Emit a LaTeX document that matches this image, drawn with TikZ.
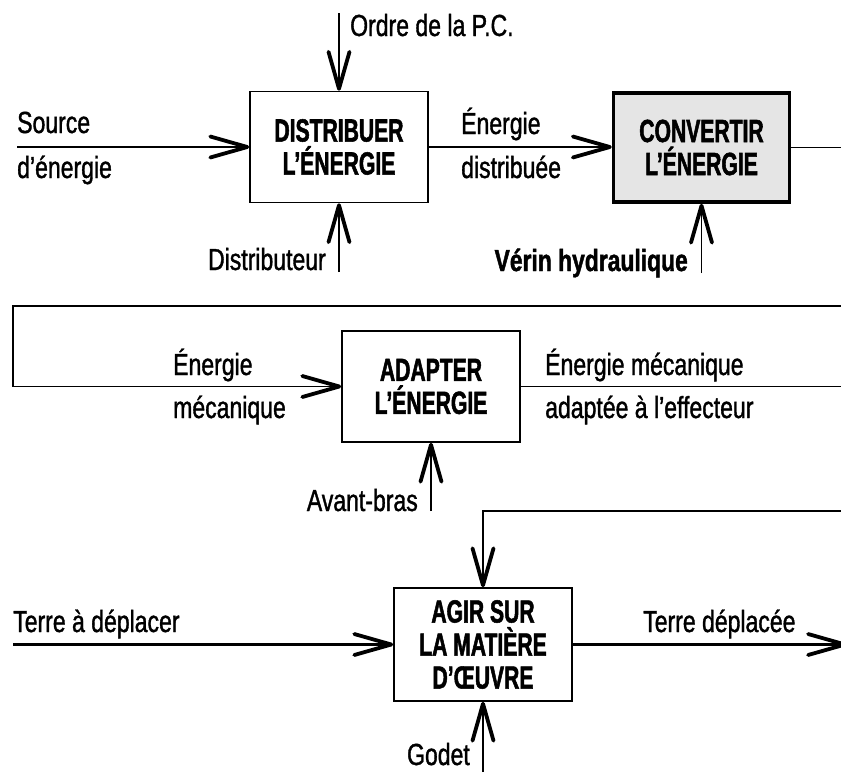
\documentclass[tikz,border=0pt]{standalone}
\usepackage{fontspec}
\setmainfont{Liberation Sans}[FakeStretch=0.755, FakeBold=1.2]
\newfontfamily\boxff{Liberation Sans}[FakeStretch=0.66, FakeBold=1.6]
\newfontfamily\bolff{Liberation Sans}[FakeStretch=0.75, FakeBold=1.4]
\usetikzlibrary{arrows.meta}
\begin{document}
\begin{tikzpicture}[x=1pt,y=-1pt,
  lab/.style={inner sep=0pt, font=\fontsize{30.5}{32}\selectfont},
  blk/.style={draw, line width=1.6pt, minimum width=178pt, minimum height=111pt,
    inner sep=0pt, align=center, font=\boxff\bfseries\fontsize{32}{33}\selectfont},
  blkthick/.style={blk, line width=3.5pt, minimum width=176pt, minimum height=109pt, fill=black!10},
  wire/.style={line width=1.2pt},
  heavy/.style={line width=3.5pt},
  barb/.style={-{Straight Barb[length=37pt,width=21pt,line width=3.8pt,round]}},
]
\useasboundingbox (0,0) rectangle (841,772);

% blocks
\node[blk] (dist) at (339,147) {DISTRIBUER\\L’ÉNERGIE};
\node[blkthick] (conv) at (701.5,147.5) {CONVERTIR\\L’ÉNERGIE};
\node[blk] (adapt) at (431,386.5) {ADAPTER\\L’ÉNERGIE};
\node[blk, minimum height=113pt] (agir) at (483,644.5) {AGIR SUR\\LA MATIÈRE\\D’ŒUVRE};

% free ends
\coordinate (ordS) at (339,13);
\coordinate (srcS) at (17,147);
\coordinate (distS) at (339,272);
\coordinate (verS) at (701.5,273);
\coordinate (convE) at (841,147.5);
\coordinate (retR) at (841,306);
\coordinate (retL) at (13,306);
\coordinate (retB) at (13,386.5);
\coordinate (adaptE) at (841,386.5);
\coordinate (avS) at (431,511);
\coordinate (feedR) at (841,511);
\coordinate (terS) at (13,644.5);
\coordinate (terE) at (847,644.5);
\coordinate (godS) at (483,772);

% connectors
\draw[wire,barb] (ordS) -- (dist.north);
\draw[wire,barb] (srcS) -- (dist.west);
\draw[wire,barb] (distS) -- (dist.south);
\draw[wire,barb] (dist.east) -- (dist.east -| conv.west);
\draw[wire,barb] (verS) -- (conv.south);
\draw[wire] (conv.east) -- (convE);
\draw[wire,barb] (retR) -- (retL) -- (retB) -- (adapt.west);
\draw[wire] (adapt.east) -- (adaptE);
\draw[wire,barb] (avS) -- (adapt.south);
\draw[wire,barb] (feedR) -| (agir.north);
\draw[heavy,barb] (terS) -- (agir.west);
\draw[heavy,barb] (agir.east) -- (terE);
\draw[wire,barb] (godS) -- (agir.south);

% labels
\node[lab, anchor=base west] (tOrd) at (350,36) {Ordre de la P.C.};
\node[lab, anchor=base west] (tSrc1) at (17,133) {Source};
\node[lab, anchor=base west] (tSrc2) at (17,178) {d’énergie};
\node[lab, anchor=base east] (tDist) at (326,270) {Distributeur};
\node[lab, anchor=base west] (tEd1) at (461,134) {Énergie};
\node[lab, anchor=base west] (tEd2) at (461,178) {distribuée};
\node[lab, anchor=base east, font=\bolff\bfseries\fontsize{30.5}{32}\selectfont] (tVer) at (688,271) {Vérin hydraulique};
\node[lab, anchor=base west] (tEm1) at (173,375) {Énergie};
\node[lab, anchor=base west] (tEm2) at (173,418) {mécanique};
\node[lab, anchor=base west] (tEa1) at (545,375) {Énergie mécanique};
\node[lab, anchor=base west] (tEa2) at (545,418) {adaptée à l’effecteur};
\node[lab, anchor=base east] (tAv) at (418,511) {Avant-bras};
\node[lab, anchor=base west] (tTer1) at (13,632) {Terre à déplacer};
\node[lab, anchor=base west] (tTer2) at (643,632) {Terre déplacée};
\node[lab, anchor=base east] (tGod) at (470,765) {Godet};
\end{tikzpicture}
\end{document}
